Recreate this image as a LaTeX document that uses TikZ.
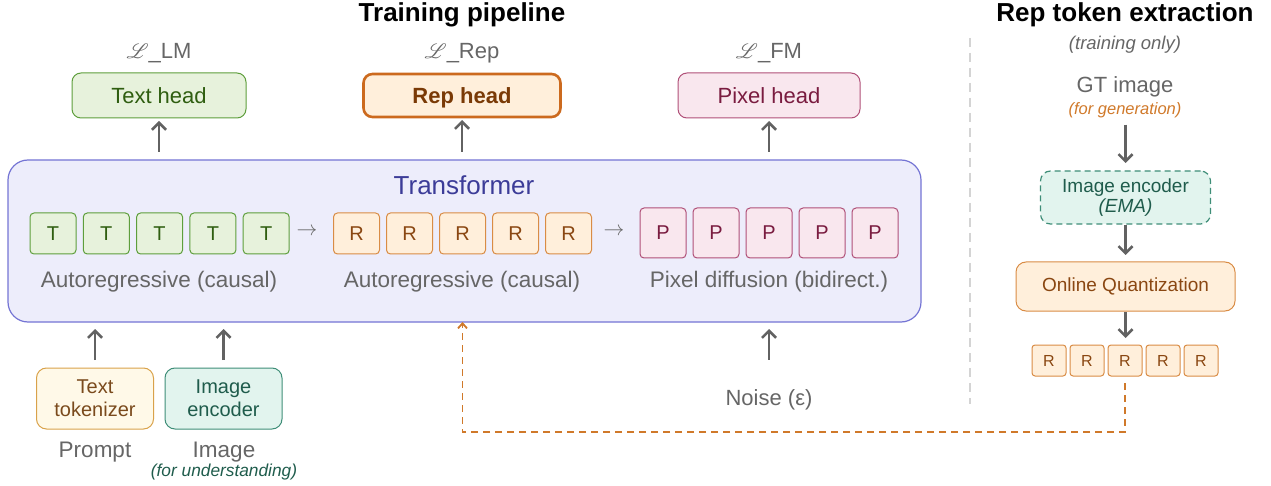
\documentclass[tikz,border=0pt]{standalone}
\usepackage{fontspec}
\setmainfont{Liberation Sans}
\usepackage{mathrsfs}
\usetikzlibrary{arrows.meta}
\newcommand{\fsz}[1]{\fontsize{#1}{#1}\selectfont}
\newcommand{\fszl}[2]{\fontsize{#1}{#2}\selectfont}
\definecolor{agray}{HTML}{626262}
\definecolor{tgray}{HTML}{666666}
\definecolor{gfill}{HTML}{E7F2DC}
\definecolor{gdraw}{HTML}{5E9E3C}
\definecolor{gtext}{HTML}{2F5E10}
\definecolor{ofill}{HTML}{FFEFDB}
\definecolor{odraw}{HTML}{D98C45}
\definecolor{otext}{HTML}{8A4712}
\definecolor{rdraw}{HTML}{CC6A1E}
\definecolor{rtext}{HTML}{7A3A06}
\definecolor{pfill}{HTML}{F9E7EE}
\definecolor{pdraw}{HTML}{B05078}
\definecolor{ptext}{HTML}{7A1C40}
\definecolor{lfill}{HTML}{EDEDFB}
\definecolor{ldraw}{HTML}{7474D4}
\definecolor{ltext}{HTML}{3C3C98}
\definecolor{yfill}{HTML}{FFF9E8}
\definecolor{ydraw}{HTML}{D9A24A}
\definecolor{ytext}{HTML}{7A4A1C}
\definecolor{tfill}{HTML}{E2F4EE}
\definecolor{tdraw}{HTML}{3F8E78}
\definecolor{ttext}{HTML}{1F5C4C}
\definecolor{dashor}{HTML}{D0792A}
\definecolor{sepgray}{HTML}{D4D4D4}
\tikzset{
  arr/.style={draw=agray, line width=2.6pt, -{Straight Barb[length=7pt,width=14pt]}},
  dashline/.style={draw=dashor, line width=1.8pt, dash pattern=on 7pt off 5pt, -{Straight Barb[length=5pt,width=9pt]}},
  tok/.style={draw, rounded corners=4pt, minimum width=46pt, minimum height=41pt, line width=1pt, font=\fsz{20}},
  ptok/.style={tok, minimum height=50pt, fill=pfill, draw=pdraw, text=ptext},
  stok/.style={draw=odraw, fill=ofill, text=otext, rounded corners=3pt, minimum width=34pt, minimum height=31pt, line width=1pt, font=\fsz{16}},
  headbox/.style={draw, rounded corners=9pt, line width=1pt, minimum height=45pt, font=\fsz{22}},
  lbl/.style={text=tgray, font=\fsz{22.5}},
  loss/.style={text=tgray, font=\fsz{22}},
  inbox/.style={draw, rounded corners=10pt, line width=1pt, minimum width=117pt, minimum height=61pt, align=center, font=\fszl{20}{23}},
}
\begin{document}
\begin{tikzpicture}[x=1pt,y=-1pt, every node/.style={inner sep=0pt, outer sep=0pt}]
\path[use as bounding box] (0,0) rectangle (1271,486);

% titles
\node[font=\bfseries\fsz{26}] (title1) at (462,15) {Training pipeline};
\node[font=\bfseries\fsz{26}] (title2) at (1125,15) {Rep token extraction};

% losses
\node[loss] (lossLM) at (159,53.5) {$\mathscr{L}$\_LM};
\node[loss] (lossRep) at (462,53.5) {$\mathscr{L}$\_Rep};
\node[loss] (lossFM) at (769,53.5) {$\mathscr{L}$\_FM};

% heads
\node[headbox, fill=gfill, draw=gdraw, text=gtext, minimum width=174pt] (texthead) at (159,95.5) {Text head};
\node[headbox, fill=ofill, draw=rdraw, text=rtext, line width=2.6pt, minimum width=197pt, minimum height=43pt, font=\bfseries\fsz{22}, text depth=0pt, text height=16pt] (rephead) at (462,95.5) {Rep head};
\node[headbox, fill=pfill, draw=pdraw, text=ptext, minimum width=182pt] (pixelhead) at (769,95.5) {Pixel head};

% transformer
\node[draw=ldraw, fill=lfill, line width=1.2pt, rounded corners=20pt, minimum width=913pt, minimum height=162pt] (tf) at (464.5,241) {};
\node[text=ltext, font=\fsz{26}] (tftitle) at (464,185) {Transformer};

\foreach \i/\x in {1/53,2/106.3,3/159.6,4/212.9,5/266.2}
  \node[tok, fill=gfill, draw=gdraw, text=gtext] (T\i) at (\x,233.5) {T};
\foreach \i/\x in {1/356.5,2/409.5,3/462.5,4/515.5,5/568.5}
  \node[tok, fill=ofill, draw=odraw, text=otext] (R\i) at (\x,233.5) {R};
\foreach \i/\x in {1/663,2/716,3/769,4/822,5/875}
  \node[ptok] (P\i) at (\x,233) {P};
\node[text=tgray, font=\fsz{22}] (ar1) at (307,232) {$\rightarrow$};
\node[text=tgray, font=\fsz{22}] (ar2) at (614,232) {$\rightarrow$};

\node[lbl] (lab1) at (159,282) {Autoregressive (causal)};
\node[lbl] (lab2) at (462,282) {Autoregressive (causal)};
\node[lbl] (lab3) at (769,282) {Pixel diffusion (bidirect.)};

% arrows to heads
\draw[arr, shorten <=8pt, shorten >=3pt] (tf.north -| texthead.south) -- (texthead.south);
\draw[arr, shorten <=8pt, shorten >=3pt] (tf.north -| rephead.south) -- (rephead.south);
\draw[arr, shorten <=8pt, shorten >=3pt] (tf.north -| pixelhead.south) -- (pixelhead.south);

% inputs
\node[inbox, fill=yfill, draw=ydraw, text=ytext] (tokenizer) at (95,398.5) {Text\\tokenizer};
\node[inbox, fill=tfill, draw=tdraw, text=ttext] (imgenc) at (223.5,398.5) {Image\\encoder};
\node[lbl, font=\fsz{22.5}] (prompt) at (95,452) {Prompt};
\node[lbl, font=\fsz{22.5}] (image) at (224,452) {Image};
\node[text=ttext, font=\itshape\fsz{17.3}] (forund) at (224,472) {(for understanding)};
\node[lbl, font=\fsz{22}] (noise) at (769,400) {Noise (ε)};

\draw[arr, shorten <=8pt, shorten >=7pt] (tokenizer.north) -- (tokenizer.north |- tf.south);
\draw[arr, shorten <=8pt, shorten >=7pt] (imgenc.north) -- (imgenc.north |- tf.south);
\draw[arr, shorten <=30pt, shorten >=7pt] (noise.north) -- (noise.north |- tf.south);

% separator
\coordinate (sepTop) at (970,38);
\coordinate (sepBot) at (970,404);
\draw[sepgray, line width=1.5pt, dash pattern=on 9pt off 6pt] (sepTop) -- (sepBot);

% right column
\node[text=tgray, font=\itshape\fsz{18.5}] (tronly) at (1125,45) {(training only)};
\node[text=tgray, font=\fsz{22}] (gt) at (1125,87) {GT image};
\node[text=dashor, font=\itshape\fsz{16.5}] (forgen) at (1125,110) {(for generation)};
\node[draw=tdraw, fill=tfill, text=ttext, dash pattern=on 6pt off 4pt, line width=1.2pt, rounded corners=10pt, minimum width=170pt, minimum height=53pt, align=center, font=\fszl{19}{20}] (ema) at (1125.5,197.5) {Image encoder\\\textit{(EMA)}};
\node[draw=odraw, fill=ofill, text=otext, line width=1pt, rounded corners=10pt, minimum width=219pt, minimum height=49pt, font=\fsz{19}] (oq) at (1125.5,286.5) {Online Quantization};
\foreach \i/\x in {1/1049,2/1087,3/1125,4/1163,5/1201}
  \node[stok] (S\i) at (\x,360.5) {R};

\draw[arr, shorten <=7pt, shorten >=8pt] (forgen.south -| ema.north) -- (ema.north);
\draw[arr, shorten <=1pt, shorten >=7pt] (ema.south) -- (oq.north);
\draw[arr, shorten <=1pt, shorten >=7pt] (oq.south) -- (oq.south |- S3.north);

% dashed feedback
\coordinate (dl) at (462.5,432);
\draw[dashline, shorten <=7pt] (S3.south) |- (dl) -- (dl |- tf.south);
\end{tikzpicture}
\end{document}
